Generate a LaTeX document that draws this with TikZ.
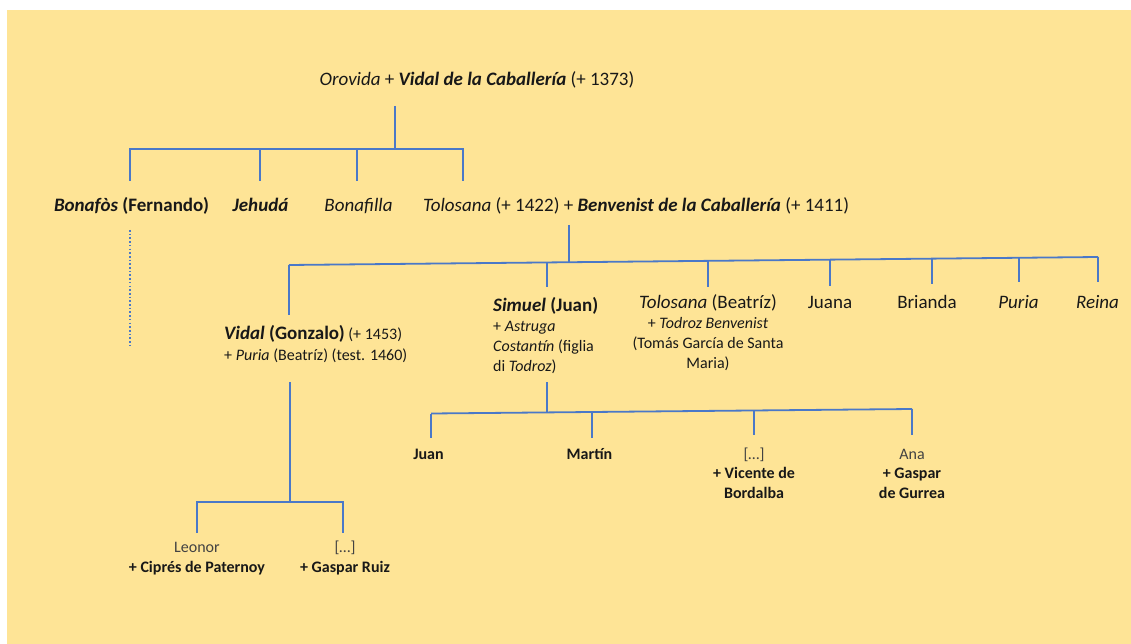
\documentclass[tikz,border=0pt]{standalone}
\usepackage{fontspec}
\setmainfont{Carlito}
\definecolor{paper}{RGB}{254,228,150}
\definecolor{treeblue}{RGB}{74,120,200}
\definecolor{ink}{RGB}{24,24,24}
\definecolor{soft}{RGB}{66,66,66}
% stacked lines, baseline of the node = baseline of the first line
\newcommand{\stackc}[1]{\begin{tabular}[t]{@{}c@{}}#1\end{tabular}}
\newcommand{\stackl}[1]{\begin{tabular}[t]{@{}l@{}}#1\end{tabular}}
\newcommand{\bigsz}{\fontsize{19}{20}\selectfont}
\begin{document}
\begin{tikzpicture}[x=1pt,y=-1pt,
  person/.style={inner sep=0pt, anchor=base, text=ink},
  big/.style={font=\fontsize{19}{20}\selectfont},
  small/.style={font=\fontsize{16}{20}\selectfont},
  link/.style={draw=treeblue, line width=1.8pt},
  dottedlink/.style={draw=treeblue, line width=1.7pt, dash pattern=on 1.6pt off 2.1pt}]
\useasboundingbox (0,0) rectangle (1131,644);
\fill[white] (0,0) rectangle (1131,644);
\fill[paper] (7,10) rectangle (1131,644);

% ---- generation 1
\node[person,big] (orovida) at (477,86)
  {\textit{Orovida} + \textbf{\textit{Vidal de la Caballería}} (+ 1373)};

% ---- generation 2
\node[person,big] (bonafos) at (131.5,212) {\textbf{\textit{Bonafòs} (Fernando)}};
\node[person,big] (jehuda) at (260.5,212) {\textbf{\textit{Jehudá}}};
\node[person,big] (bonafilla) at (358.5,212) {\textit{Bonafilla}};
\node[person,big,anchor=base west] (tolosana) at (423,212)
  {\textit{Tolosana} (+ 1422) + \textbf{\textit{Benvenist de la Caballería}} (+ 1411)};

% ---- generation 3
\node[person,anchor=base west,font=\fontsize{16}{21}\selectfont] (vidal) at (224,339)
  {\stackl{{\bigsz\textbf{\textit{Vidal} (Gonzalo)}} (+ 1453)\\
   + \textit{Puria} (Beatríz) (test. 1460)}};
\node[person,anchor=base west,small] (simuel) at (493,311)
  {\stackl{{\bigsz\textbf{\textit{Simuel} (Juan)}}\\ + \textit{Astruga}\\
   \textit{Costantín} (figlia\\ di \textit{Todroz})}};
\node[person,small] (tolosanab) at (708,308)
  {\stackc{{\bigsz\textit{Tolosana} (Beatríz)}\\ + \textit{Todroz Benvenist}\\
   (Tomás García de Santa\\ Maria)}};
\node[person,big] (juana) at (830,308) {Juana};
\node[person,big] (brianda) at (927,308) {Brianda};
\node[person,big] (puria) at (1018.5,308) {\textit{Puria}};
\node[person,big] (reina) at (1097.5,308) {\textit{Reina}};

% ---- generation 4, children of Simuel
\node[person,small] (juan) at (428.5,459) {\textbf{Juan}};
\node[person,small] (martin) at (589.5,459) {\textbf{Martín}};
\node[person,small,font=\fontsize{16}{19.5}\selectfont] (anon1) at (754,459)
  {\stackc{\textcolor{soft}{[…]}\\ \textbf{+ Vicente de}\\ \textbf{Bordalba}}};
\node[person,small,font=\fontsize{16}{19.5}\selectfont] (ana) at (912,459)
  {\stackc{\textcolor{soft}{Ana}\\ \textbf{+ Gaspar}\\ \textbf{de Gurrea}}};

% ---- generation 4, children of Vidal
\node[person,small] (leonor) at (197,552.5)
  {\stackc{\textcolor{soft}{Leonor}\\ \textbf{+ Ciprés de Paternoy}}};
\node[person,small] (anon2) at (345,552.5)
  {\stackc{\textcolor{soft}{[…]}\\ \textbf{+ Gaspar Ruiz}}};

% ---- connectors: Orovida + Vidal
\coordinate (o-top) at (395,106);
\coordinate (o-bar) at (395,149);
\coordinate (bonafos-in) at (130,181);
\coordinate (jehuda-in) at (260,181);
\coordinate (bonafilla-in) at (357,181);
\coordinate (tolosana-in) at (463,181);
\draw[link] (o-top) -- (o-bar);
\draw[link] (bonafos-in) |- (tolosana-in |- o-bar) -- (tolosana-in);
\draw[link] (jehuda-in) -- (jehuda-in |- o-bar);
\draw[link] (bonafilla-in) -- (bonafilla-in |- o-bar);

% line of descent from Bonafòs
\coordinate (bonafos-out) at (130,230);
\coordinate (bonafos-end) at (130,348);
\draw[dottedlink] (bonafos-out) -- (bonafos-end);

% ---- connectors: Tolosana + Benvenist (bar slightly slanted)
\coordinate (t-top) at (569,225);
\coordinate (t-bar) at (569,262.2);
\coordinate (t-barL) at (289,265);
\coordinate (t-barR) at (1098,257);
\draw[link] (t-top) -- (t-bar);
\draw[link] (t-barL) -- (t-barR);
\coordinate (vidal-in) at (289,315);
\coordinate (simuel-bar) at (547,262.4);
\coordinate (simuel-in) at (547,287);
\coordinate (tolosanab-bar) at (708,261.1);
\coordinate (tolosanab-in) at (708,287);
\coordinate (juana-bar) at (830,259.7);
\coordinate (juana-in) at (830,286);
\coordinate (brianda-bar) at (932,258.6);
\coordinate (brianda-in) at (932,284);
\coordinate (puria-bar) at (1019,257.8);
\coordinate (puria-in) at (1019,282);
\coordinate (reina-in) at (1098,282);
\draw[link] (t-barL) -- (vidal-in);
\draw[link] (simuel-bar) -- (simuel-in);
\draw[link] (tolosanab-bar) -- (tolosanab-in);
\draw[link] (juana-bar) -- (juana-in);
\draw[link] (brianda-bar) -- (brianda-in);
\draw[link] (puria-bar) -- (puria-in);
\draw[link] (t-barR) -- (reina-in);

% ---- connectors: children of Simuel
\coordinate (s-top) at (547,382);
\coordinate (s-bar) at (547,412.2);
\coordinate (s-barL) at (431,413.5);
\coordinate (s-barR) at (912,409);
\draw[link] (s-top) -- (s-bar);
\draw[link] (s-barL) -- (s-barR);
\coordinate (juan-in) at (431,438);
\coordinate (martin-bar) at (592,412);
\coordinate (martin-in) at (592,438);
\coordinate (anon1-bar) at (754,410.5);
\coordinate (anon1-in) at (754,435);
\coordinate (ana-in) at (912,435);
\draw[link] (s-barL) -- (juan-in);
\draw[link] (martin-bar) -- (martin-in);
\draw[link] (anon1-bar) -- (anon1-in);
\draw[link] (s-barR) -- (ana-in);

% ---- connectors: children of Vidal
\coordinate (v-top) at (290,382);
\coordinate (v-bar) at (290,502);
\coordinate (leonor-in) at (197,533);
\coordinate (anon2-in) at (343,533);
\draw[link] (v-top) -- (v-bar);
\draw[link] (leonor-in) |- (anon2-in |- v-bar) -- (anon2-in);
\end{tikzpicture}
\end{document}
